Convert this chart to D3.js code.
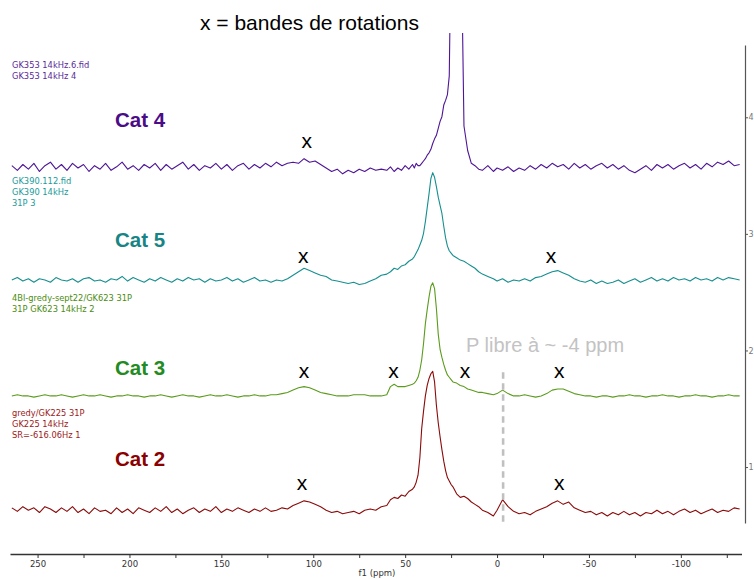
<!DOCTYPE html>
<html>
<head>
<meta charset="utf-8">
<script src="https://cdn.jsdelivr.net/npm/d3@7"></script>
<style>
  body { margin: 0; background: #fff; }
  svg { display: block; }
</style>
</head>
<body>
<div id="chart"></div>
<script>
// chemical shift grid (ppm), shared by the 4 spectra
const ppm = [
  264,261,258,255,252,249,246,243,240,237,
  234,231,228,225,222,219,216,213,210,207,
  204,201,198,195,192,189,186,183,180,177,
  174,171,168,165,162,159,156,153,150,147,
  144,141,138,135,132,129,126,123,120,117,
  114,111,108,105,102,99,96,93,90,87,
  84,81,78,75,72,69,66,63,
  60,58,56,54,52,50,48,46,
  45,44,43,42,41,40,39,38,37,36,35,34,33,32,31,30,29,28,27,26,25,
  24,22,20,18,16,14,12,10,
  8,5,2,0,-3,-6,-9,-12,-15,-18,
  -21,-24,-27,-30,-33,-36,-39,-42,-45,-48,
  -51,-54,-57,-60,-63,-66,-69,-72,-75,-78,
  -81,-84,-87,-90,-93,-96,-99,-102,-105,-108,
  -111,-114,-117,-120,-123,-126,-129,-132
];

// intensities (right axis units, relative to each baseline)
const cat4 = [
  0.01,-0.03,0.02,-0.02,0.03,-0.04,0.01,0.04,-0.02,0.02,
  -0.03,0.03,-0.01,0.02,-0.04,0.01,-0.02,0.03,-0.03,0.0,
  0.04,-0.02,0.01,-0.03,0.02,-0.01,0.03,-0.03,0.02,-0.02,
  0.01,0.04,-0.02,0.02,-0.03,0.01,-0.01,0.03,-0.02,0.02,
  -0.03,0.01,0.03,-0.02,0.02,-0.01,0.03,0.0,0.04,0.01,
  0.03,0.04,0.03,0.07,0.04,0.05,0.02,-0.01,-0.04,-0.02,
  -0.06,-0.03,-0.05,-0.02,-0.04,-0.01,-0.03,-0.02,
  -0.03,0.0,-0.04,-0.01,-0.03,0.01,-0.02,0.02,
  -0.01,0.03,0.01,0.01,0.03,0.05,0.07,0.10,0.12,0.15,0.20,0.24,0.27,0.33,0.39,0.43,0.53,0.57,0.62,0.78,2.0,
  3.0,3.0,2.5,0.35,0.14,0.03,0.01,-0.02,
  -0.03,0.01,-0.04,-0.01,-0.03,0.0,-0.04,-0.01,-0.03,0.01,
  -0.02,0.02,-0.01,0.03,0.0,0.02,-0.02,0.03,-0.01,0.02,
  -0.02,0.01,0.03,-0.01,0.02,-0.02,0.01,-0.03,-0.05,-0.02,
  0.01,-0.03,0.02,-0.01,0.02,-0.02,0.01,0.03,-0.01,0.02,
  -0.02,0.03,0.0,0.04,0.02,0.05,0.01,0.02
];
const cat5 = [
  0.0,0.02,-0.01,0.01,-0.02,0.01,0.0,-0.02,0.02,0.0,
  -0.01,0.01,-0.02,0.01,0.02,-0.01,0.0,-0.02,0.01,0.0,
  0.03,-0.01,0.02,0.0,-0.02,0.01,-0.01,0.02,0.0,-0.02,
  0.01,-0.01,0.02,0.0,0.01,-0.02,0.01,-0.01,0.0,0.02,
  -0.01,0.01,-0.02,0.0,0.02,-0.01,0.0,-0.02,0.0,-0.01,
  0.01,0.04,0.07,0.1,0.08,0.06,0.04,0.03,0.0,-0.01,
  -0.02,-0.03,-0.02,-0.04,-0.03,-0.01,0.01,0.04,
  0.05,0.07,0.10,0.09,0.12,0.13,0.16,0.18,
  0.2,0.23,0.26,0.3,0.34,0.4,0.5,0.62,0.74,0.87,0.92,0.88,0.8,0.71,0.64,0.57,0.46,0.36,0.29,0.25,0.23,
  0.21,0.19,0.17,0.16,0.14,0.12,0.1,0.07,
  0.05,0.03,0.01,-0.01,0.01,-0.02,0.0,-0.01,0.01,-0.01,
  0.02,0.03,0.05,0.07,0.08,0.06,0.04,0.01,-0.01,-0.02,
  0.0,-0.03,-0.01,-0.03,-0.02,0.0,-0.03,-0.01,0.01,-0.02,
  0.0,0.02,-0.01,0.01,-0.01,0.02,0.0,0.01,-0.01,0.02,
  0.0,0.01,-0.01,0.02,0.0,0.02,0.01,0.0
];
const cat3 = [
  0.0,0.01,0.0,0.0,-0.01,0.0,0.01,0.0,0.0,0.01,
  0.0,-0.01,0.0,0.01,0.0,0.0,0.01,0.0,-0.01,0.0,
  0.0,0.01,0.0,0.0,-0.01,0.0,0.0,0.01,0.0,-0.01,
  0.0,0.01,0.0,0.0,-0.01,0.0,0.01,0.0,0.0,0.01,
  0.0,-0.01,0.0,0.0,0.01,0.0,0.0,0.01,0.01,0.02,
  0.03,0.05,0.07,0.08,0.07,0.05,0.03,0.02,0.01,0.0,
  0.0,0.0,0.01,0.01,0.01,0.0,0.0,0.0,
  0.01,0.08,0.10,0.08,0.08,0.08,0.09,0.1,
  0.11,0.13,0.16,0.22,0.31,0.45,0.62,0.74,0.85,0.94,0.97,0.92,0.75,0.53,0.4,0.33,0.27,0.22,0.18,0.16,0.14,
  0.12,0.11,0.09,0.08,0.06,0.05,0.04,0.03,
  0.03,0.02,0.01,0.02,0.05,0.02,0.0,0.0,0.01,0.0,
  -0.01,0.0,0.02,0.05,0.06,0.06,0.04,0.02,0.01,0.0,
  0.0,-0.01,0.0,0.0,-0.01,0.0,0.0,0.01,0.0,0.0,
  -0.01,0.0,0.0,0.01,0.0,0.0,-0.01,0.0,0.0,0.01,
  0.0,0.0,-0.01,0.0,0.0,0.01,0.0,0.0
];
const cat2 = [
  0.02,-0.01,0.03,0.0,0.02,-0.02,0.03,0.01,-0.02,0.02,
  -0.01,0.03,-0.02,0.01,-0.03,0.02,-0.01,0.0,-0.03,0.02,
  -0.02,0.01,-0.03,0.02,0.0,-0.02,0.02,-0.01,0.03,-0.02,
  0.01,-0.03,0.0,0.02,-0.02,0.01,-0.01,0.03,-0.02,0.01,
  -0.01,0.02,0.0,-0.02,0.01,-0.01,0.02,-0.01,0.0,0.02,
  0.01,0.04,0.06,0.08,0.07,0.05,0.03,0.0,-0.02,-0.01,
  -0.03,-0.02,-0.01,-0.03,0.0,0.01,0.0,0.03,
  0.04,0.09,0.11,0.1,0.13,0.12,0.16,0.18,
  0.2,0.24,0.3,0.45,0.7,0.85,0.98,1.07,1.13,1.17,1.19,1.1,0.9,0.75,0.63,0.52,0.42,0.34,0.28,0.25,0.22,
  0.2,0.14,0.11,0.12,0.1,0.07,0.05,0.03,
  0.0,-0.02,-0.05,0.0,0.09,0.03,-0.01,-0.03,-0.02,-0.04,
  -0.01,0.01,0.03,0.06,0.08,0.05,0.07,0.02,0.0,-0.02,
  -0.01,-0.04,-0.02,-0.05,-0.02,-0.04,-0.01,-0.04,-0.02,-0.05,
  -0.02,-0.03,0.0,-0.03,-0.01,-0.04,-0.01,0.01,-0.02,0.0,
  -0.03,-0.01,0.01,-0.02,0.0,-0.01,0.02,0.01
];

// stacking: baseline of each spectrum on the right axis
const catNames = ["Cat 4", "Cat 5", "Cat 3", "Cat 2"];
const catSeries = [cat4, cat5, cat3, cat2];
const baselines = [3.575, 2.605, 1.61, 0.63];
const fileLabels = [
  ["GK353 14kHz.6.fid", "GK353 14kHz 4"],
  ["GK390.112.fid", "GK390 14kHz", "31P 3"],
  ["4Bl-gredy-sept22/GK623 31P", "31P GK623 14kHz 2"],
  ["gredy/GK225 31P", "GK225 14kHz", "SR=-616.06Hz 1"]
];

// spinning sidebands "x" marks (ppm, level on right axis)
const sidebandPpm = [103.5, 105.4, -29.4, 105, 56.4, 17.4, -33.9, 106.1, -33.9];
const sidebandLevel = [3.736, 2.749, 2.749, 1.764, 1.764, 1.764, 1.764, 0.803, 0.803];

// free P marker
const freePpm = -3.3;
const freeRange = [0.53, 1.847];

// axes
const xMajorTicks = [250, 200, 150, 100, 50, 0, -50, -100];
const xMinorTicks = [225, 175, 125, 75, 25, -25, -75, -125];
const yTicks = [1, 2, 3, 4];

const width = 754, height = 579;

const lineColors = ["#4e1597", "#168f8f", "#5b9b1c", "#8b0a0a"];
const labelColors = ["#4b0c87", "#178585", "#228b22", "#8b0000"];
const smallColors = ["#5a2a9a", "#1a9a9a", "#4a8c10", "#9b1a1a"];
const labelBaselines = [127, 247, 375, 466];
const smallBaselines = [68.3, 184, 301, 416];

const svg = d3.select("#chart").append("svg")
  .attr("width", width)
  .attr("height", height);

const x = d3.scaleLinear().domain([265, -133]).range([10, 741.5]);
const y = d3.scaleLinear().domain([0.52, 4.62]).range([523, 45]);

svg.append("defs").append("clipPath")
  .attr("id", "plot-clip")
  .append("rect")
  .attr("x", 10).attr("y", 33)
  .attr("width", 733).attr("height", 520);

// spectra
const line = d3.line()
  .x(d => x(d[0]))
  .y(d => y(d[1]));

const spectra = svg.append("g").attr("clip-path", "url(#plot-clip)");

catSeries.forEach((vals, i) => {
  const pts = ppm.map((p, j) => [p, vals[j] + baselines[i]]);
  spectra.append("path")
    .datum(pts)
    .attr("fill", "none")
    .attr("stroke", lineColors[i])
    .attr("stroke-width", 1.1)
    .attr("stroke-linejoin", "round")
    .attr("d", line);
});

// dashed line for free P
svg.append("line")
  .attr("x1", x(freePpm)).attr("x2", x(freePpm))
  .attr("y1", y(freeRange[0])).attr("y2", y(freeRange[1]))
  .attr("stroke", "#c0c0c0")
  .attr("stroke-width", 2.6)
  .attr("stroke-dasharray", "6.5,4.5");

// x axis
const xAxis = d3.axisBottom(x)
  .tickValues(xMajorTicks.concat(xMinorTicks))
  .tickSize(4)
  .tickSizeOuter(0)
  .tickFormat(d => xMajorTicks.includes(d) ? String(d) : "");

const gx = svg.append("g")
  .attr("transform", "translate(0,554)")
  .call(xAxis);
gx.select(".domain").attr("stroke", "#333").attr("stroke-width", 1.4);
gx.selectAll(".tick line").attr("stroke", "#333");
gx.selectAll(".tick text")
  .attr("fill", "#333")
  .attr("font-family", "DejaVu Sans")
  .attr("font-size", 8.5)
  .attr("dy", "0.75em");

svg.append("text")
  .attr("x", 377).attr("y", 576)
  .attr("text-anchor", "middle")
  .attr("font-family", "DejaVu Sans")
  .attr("font-size", 8.5)
  .attr("fill", "#333")
  .text("f1 (ppm)");

// right axis
const yAxis = d3.axisRight(y)
  .tickValues(yTicks)
  .tickSize(3)
  .tickSizeOuter(0)
  .tickFormat(d3.format("d"));

const gy = svg.append("g")
  .attr("transform", "translate(745,0)")
  .call(yAxis);
gy.select(".domain").attr("stroke", "#555").attr("stroke-width", 1.2);
gy.selectAll(".tick line").attr("stroke", "#555");
gy.selectAll(".tick text")
  .attr("fill", "#777")
  .attr("font-family", "DejaVu Sans")
  .attr("font-size", 8)
  .attr("x", 3.5);

// category labels
catNames.forEach((name, i) => {
  svg.append("text")
    .attr("x", 115).attr("y", labelBaselines[i])
    .attr("font-family", "Liberation Sans, Arial, sans-serif")
    .attr("font-weight", "bold")
    .attr("font-size", 20.5)
    .attr("fill", labelColors[i])
    .text(name);

  fileLabels[i].forEach((t, k) => {
    svg.append("text")
      .attr("x", 12).attr("y", smallBaselines[i] + k * 11.1)
      .attr("font-family", "DejaVu Sans")
      .attr("font-size", 8.3)
      .attr("fill", smallColors[i])
      .text(t);
  });
});

// sideband marks
svg.append("g").selectAll("text")
  .data(sidebandPpm)
  .enter()
  .append("text")
  .attr("x", d => x(d))
  .attr("y", (d, i) => y(sidebandLevel[i]))
  .attr("text-anchor", "middle")
  .attr("font-family", "Liberation Sans, Arial, sans-serif")
  .attr("font-size", 21)
  .attr("fill", "#000")
  .text("x");

// title and free P note
svg.append("text")
  .attr("x", 200).attr("y", 30)
  .attr("font-family", "Liberation Sans, Arial, sans-serif")
  .attr("font-size", 21)
  .attr("fill", "#000")
  .text("x = bandes de rotations");

svg.append("text")
  .attr("x", 466).attr("y", 352)
  .attr("font-family", "Liberation Sans, Arial, sans-serif")
  .attr("font-size", 20)
  .attr("fill", "#c3c3c3")
  .text("P libre à ~ -4 ppm");
</script>
</body>
</html>
